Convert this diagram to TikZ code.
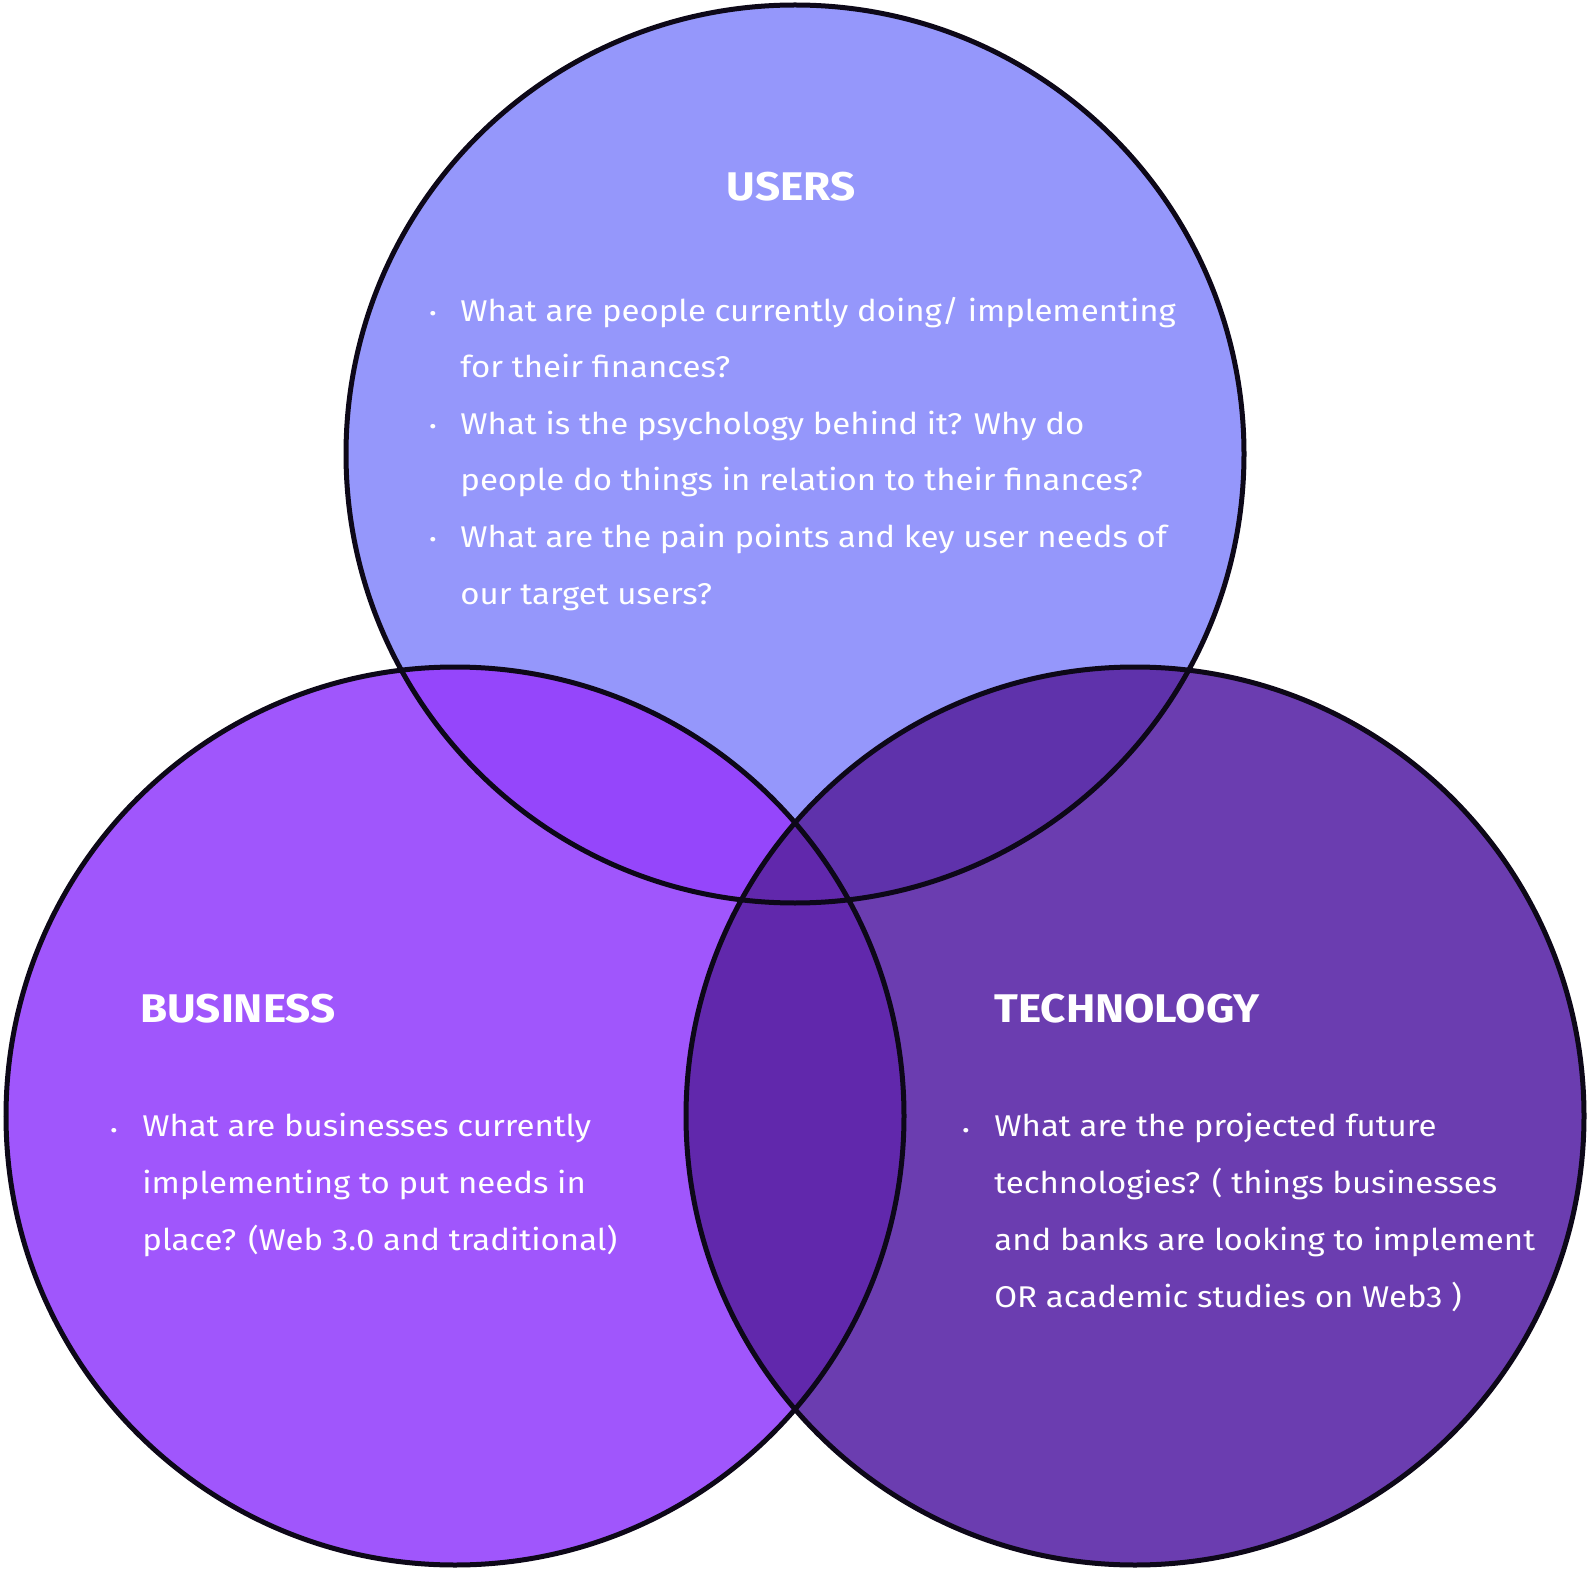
\documentclass[tikz,border=0pt]{standalone}
\usepackage{fontspec}
\setmainfont[FakeStretch=1.1]{Fira Sans}
\usetikzlibrary{positioning}
\definecolor{usersblue}{HTML}{9597FB}
\definecolor{businesspurple}{HTML}{A056FC}
\definecolor{techpurple}{HTML}{6B3DB0}
\definecolor{usersbusiness}{HTML}{9546FB}
\definecolor{userstech}{HTML}{5F32AB}
\definecolor{businesstech}{HTML}{6128AC}
\definecolor{ringline}{HTML}{0D0818}
\tikzset{
	ring/.style={draw=ringline, line width=2.5pt},
	heading/.style={text=white, font=\fontsize{20}{24}\selectfont\bfseries, inner sep=0pt},
	itemtext/.style={text=white, font=\fontsize{15}{28.4}\selectfont, align=left, inner sep=0pt, anchor=base west},
	dot/.style={text=white, font=\fontsize{10}{12}\selectfont, inner sep=0pt, anchor=base}
}

\begin{document}
\begin{tikzpicture}[x=0.5pt,y=-0.5pt]
			\useasboundingbox (0,0) rectangle (1590,1572);
			\def\rad{449}
			
			% Circle centres
			\coordinate (users) at (795,454);
			\coordinate (business) at (455,1116);
			\coordinate (tech) at (1135,1116);
			
			% Base fills
			\fill[usersblue] (users) circle[radius=\rad];
			\fill[businesspurple] (business) circle[radius=\rad];
			\fill[techpurple] (tech) circle[radius=\rad];
			
			% Overlaps
			\begin{scope}
				\clip (users) circle[radius=\rad];
				\fill[usersbusiness] (business) circle[radius=\rad];
				\fill[userstech] (tech) circle[radius=\rad];
			\end{scope}
			\begin{scope}
				\clip (business) circle[radius=\rad];
				\fill[businesstech] (tech) circle[radius=\rad];
			\end{scope}
			
			% Outlines
			\foreach \c in {users, business, tech} {
				\draw[ring] (\c) circle[radius=\rad];
			}
			
			% Users (text nodes sit on the baseline of their last line)
			\node[heading, anchor=base] (usershead) at (791,201) {USERS};
			\node[itemtext] (usersa) at (460,378) {What are people currently doing/ implementing\\for their finances?};
			\node[itemtext] (usersb) at (460,491) {What is the psychology behind it? Why do\\people do things in relation to their finances?};
			\node[itemtext] (usersc) at (460,604) {What are the pain points and key user needs of\\our target users?};
			
			% Business
			\node[heading, anchor=base west] (businesshead) at (140,1022) {BUSINESS};
			\node[itemtext] (businessa) at (142,1250) {What are businesses currently\\implementing to put needs in\\place? (Web 3.0 and traditional)};
			
			% Technology
			\node[heading, anchor=base west] (techhead) at (994,1022) {TECHNOLOGY};
			\node[itemtext] (techa) at (994,1307) {What are the projected future\\technologies? ( things businesses\\and banks are looking to implement\\OR academic studies on Web3 )};
			
			% Bullets
			\foreach \x/\y/\n in {433/321/ua, 433/434/ub, 433/547/uc, 114/1137/ba, 966/1137/ta} {
				\node[dot] (dot\n) at (\x,\y) {•};
			}
		\end{tikzpicture}
\end{document}
